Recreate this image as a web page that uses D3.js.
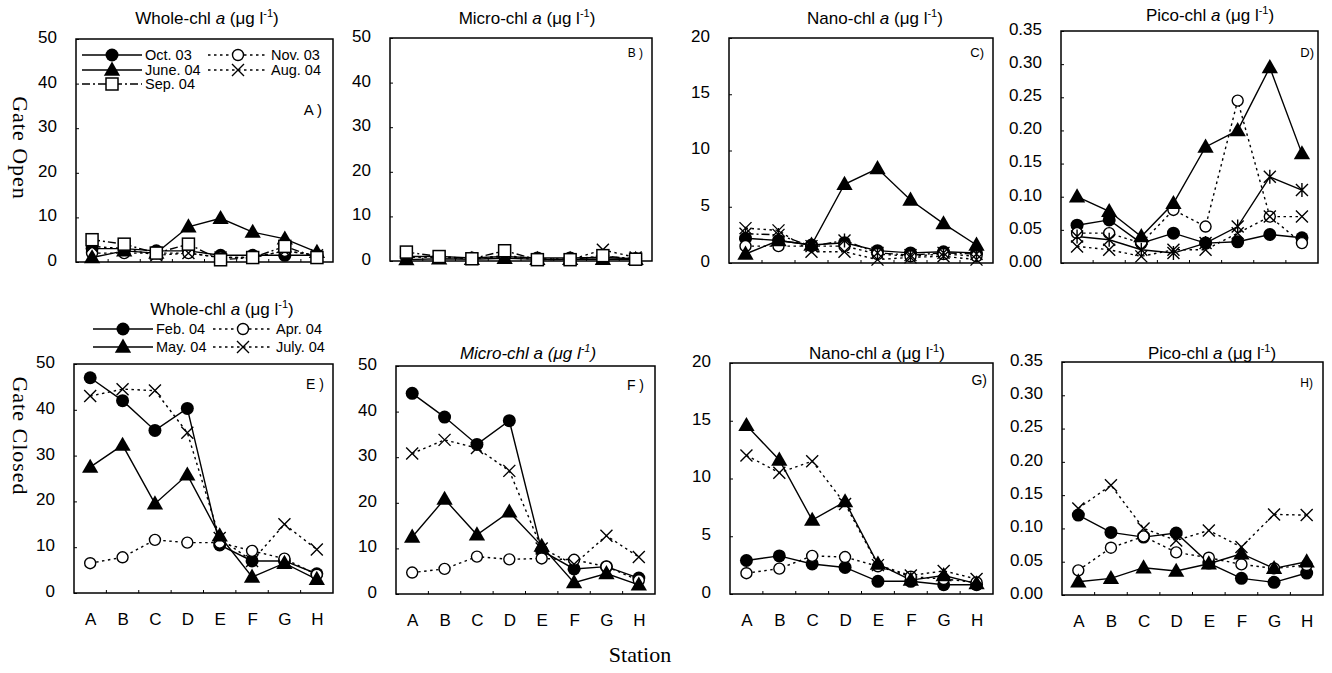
<!DOCTYPE html>
<html><head><meta charset="utf-8">
<script src="https://cdn.jsdelivr.net/npm/d3@7"></script>
<style>body{margin:0;background:#fff} text{fill:#000}</style>
</head><body>
<svg id="c" width="1332" height="673" style="font-family:'Liberation Sans',Arial,sans-serif"></svg>
<script>
// ---------- data ----------
const STATIONS = ["A","B","C","D","E","F","G","H"];
const OPEN_MONTHS = ["Oct. 03","Nov. 03","June. 04","Aug. 04","Sep. 04"];
const CLOSED_MONTHS = ["Feb. 04","Apr. 04","May. 04","July. 04"];
const TICKS_WHOLE = [0,10,20,30,40,50];
const TICKS_NANO = [0,5,10,15,20];
const TICKS_PICO = [0,0.05,0.10,0.15,0.20,0.25,0.30,0.35];

// Gate open (rows: Oct.03, Nov.03, June.04, Aug.04, Sep.04)
const WHOLE_OPEN = [
  [3.0,3.0,2.5,2.5,1.5,1.5,1.5,1.5],
  [2.0,2.0,2.0,2.0,1.0,1.0,2.5,1.5],
  [1.0,2.5,2.0,7.9,9.8,6.7,5.2,2.2],
  [3.5,3.0,1.5,2.0,1.0,1.0,2.5,1.5],
  [5.0,4.0,2.0,4.0,0.5,1.0,3.5,1.0]
];
const MICRO_OPEN = [
  [1.0,1.0,0.7,1.0,0.7,0.7,0.8,0.5],
  [0.8,1.0,0.5,1.2,0.5,0.4,1.0,0.5],
  [0.3,0.5,0.4,0.6,0.4,0.4,0.4,0.4],
  [1.0,0.8,0.5,1.0,0.3,0.3,2.5,0.8],
  [2.0,1.0,0.5,2.3,0.3,0.3,1.2,0.4]
];
const NANO_OPEN = [
  [2.2,2.0,1.6,1.8,1.1,0.9,1.0,0.9],
  [1.5,1.5,1.5,1.5,0.8,0.6,0.8,0.6],
  [0.8,2.0,1.6,7.0,8.4,5.6,3.5,1.6],
  [3.1,2.9,1.0,1.0,0.3,0.5,0.6,0.3],
  [2.6,2.5,1.5,2.0,0.9,0.7,0.9,0.8]
];
const PICO_OPEN = [
  [0.057,0.065,0.030,0.045,0.030,0.032,0.043,0.038],
  [0.045,0.045,0.030,0.080,0.055,0.245,0.070,0.030],
  [0.100,0.078,0.040,0.090,0.175,0.200,0.295,0.165],
  [0.025,0.020,0.010,0.020,0.020,0.045,0.070,0.070],
  [0.040,0.035,0.020,0.015,0.030,0.055,0.130,0.110]
];
// Gate closed (rows: Feb.04, Apr.04, May.04, July.04)
const WHOLE_CLOSED = [
  [47.0,42.0,35.5,40.3,10.5,7.0,7.0,4.2],
  [6.5,7.8,11.6,11.0,11.0,9.2,7.5,4.0],
  [27.5,32.3,19.5,25.8,12.5,3.5,6.5,3.0],
  [43.0,44.5,44.2,35.0,12.0,7.0,15.0,9.5]
];
const MICRO_CLOSED = [
  [44.0,38.8,32.8,38.0,9.5,5.5,6.0,3.5],
  [4.7,5.5,8.2,7.6,7.8,7.5,6.0,3.0],
  [12.5,20.8,13.0,18.0,10.5,2.5,4.5,2.0],
  [30.8,33.8,32.0,27.0,10.0,6.5,12.8,8.1]
];
const NANO_CLOSED = [
  [2.9,3.3,2.6,2.3,1.1,1.1,0.8,0.8],
  [1.8,2.2,3.3,3.2,2.4,1.5,1.3,1.0],
  [14.6,11.6,6.4,8.0,2.6,1.2,1.6,0.9],
  [12.0,10.5,11.5,7.8,2.5,1.6,2.0,1.3]
];
const PICO_CLOSED = [
  [0.120,0.094,0.087,0.093,0.048,0.025,0.019,0.033],
  [0.037,0.071,0.088,0.064,0.056,0.046,0.040,0.045],
  [0.020,0.025,0.041,0.036,0.047,0.062,0.040,0.050],
  [0.130,0.165,0.100,0.082,0.097,0.072,0.121,0.120]
];

// ---------- styles ----------
const DOT = "2.5,3.5", DASHDOT = "8,3,2,3";
const OPEN_STYLES = [
  {m:"fcircle", dash:null},
  {m:"ocircle", dash:DOT},
  {m:"ftri", dash:null},
  {m:"x", dash:DOT},
  {m:"osquare", dash:DASHDOT}
];
const CLOSED_STYLES = [
  {m:"fcircle", dash:null},
  {m:"ocircle", dash:DOT},
  {m:"ftri", dash:null},
  {m:"x", dash:DOT}
];

const svg = d3.select("#c");
const f0 = d3.format("d"), f2 = d3.format(".2f");
const SANS = "'Liberation Sans',Arial,sans-serif";
const SERIF = "'Liberation Serif','Times New Roman',serif";

function marker(g, type, cx, cy) {
  if (type === "fcircle") g.append("circle").attr("cx",cx).attr("cy",cy).attr("r",6.5).attr("fill","#000");
  else if (type === "ocircle") g.append("circle").attr("cx",cx).attr("cy",cy).attr("r",5.5).attr("fill","#fff").attr("stroke","#000").attr("stroke-width",1.4);
  else if (type === "ftri") g.append("path").attr("d", d3.symbol(d3.symbolTriangle, 115)()).attr("transform",`translate(${cx},${cy+1})`).attr("fill","#000");
  else if (type === "osquare") g.append("rect").attr("x",cx-6).attr("y",cy-6).attr("width",12).attr("height",12).attr("fill","#fff").attr("stroke","#000").attr("stroke-width",1.5);
  else if (type === "x" || type === "ast") {
    const s = 6;
    g.append("path").attr("d",`M${cx-s},${cy-s}L${cx+s},${cy+s}M${cx-s},${cy+s}L${cx+s},${cy-s}` + (type==="ast" ? `M${cx},${cy-s-1}L${cx},${cy+s+1}` : ""))
      .attr("stroke","#000").attr("stroke-width",1.4).attr("fill","none");
  }
}

function title(x, y, name, italic) {
  const t = svg.append("text").attr("x",x).attr("y",y).attr("text-anchor","middle")
    .style("font-family",SANS).style("font-size","17px")
    .style("font-style", italic ? "italic" : "normal");
  t.append("tspan").text(name + "-chl ");
  t.append("tspan").style("font-style","italic").text("a");
  t.append("tspan").text(" (\u03bcg l");
  t.append("tspan").style("font-size","11px").attr("dy",-7).text("-1");
  t.append("tspan").attr("dy",7).text(")");
}

const panels = [
  {data:WHOLE_OPEN, st:OPEN_STYLES, ticks:TICKS_WHOLE, fmt:f0, box:[76,39,333,262], name:"Whole", tx:207, ty:24, lab:"A )", lx:322, ly:115, lfs:15},
  {data:MICRO_OPEN, st:OPEN_STYLES, ticks:TICKS_WHOLE, fmt:f0, box:[390,38,652,261], name:"Micro", tx:527, ty:24, lab:"B )", lx:643, ly:57, lfs:12},
  {data:NANO_OPEN, st:OPEN_STYLES, ticks:TICKS_NANO, fmt:f0, box:[729,38,993,263], name:"Nano", tx:875, ty:24, lab:"C)", lx:984, ly:57, lfs:13, sep:"ast"},
  {data:PICO_OPEN, st:OPEN_STYLES, ticks:TICKS_PICO, fmt:f2, box:[1061,31,1318,263], name:"Pico", tx:1210, ty:21, lab:"D)", lx:1314, ly:57, lfs:13, sep:"ast", sepSolid:true},
  {data:WHOLE_CLOSED, st:CLOSED_STYLES, ticks:TICKS_WHOLE, fmt:f0, box:[74,364,333,593], name:"Whole", tx:222, ty:315, lab:"E )", lx:324, ly:389, lfs:14, xl:true},
  {data:MICRO_CLOSED, st:CLOSED_STYLES, ticks:TICKS_WHOLE, fmt:f0, box:[396,366,655,594], name:"Micro", tx:528, ty:359, lab:"F )", lx:644, ly:390, lfs:14, xl:true, it:true},
  {data:NANO_CLOSED, st:CLOSED_STYLES, ticks:TICKS_NANO, fmt:f0, box:[730,363,993,594], name:"Nano", tx:877, ty:359, lab:"G)", lx:987, ly:385, lfs:14, xl:true},
  {data:PICO_CLOSED, st:CLOSED_STYLES, ticks:TICKS_PICO, fmt:f2, box:[1062,362,1323,595], name:"Pico", tx:1212, ty:359, lab:"H)", lx:1313, ly:387, lfs:12, xl:true}
];

panels.forEach(p => {
  const [l,t,r,b] = p.box;
  const x = d3.scalePoint().domain(STATIONS).range([l,r]).padding(0.5);
  const xb = d3.scaleBand().domain(STATIONS).range([l,r]);
  const y = d3.scaleLinear().domain([0, p.ticks[p.ticks.length-1]]).range([b,t]);
  const g = svg.append("g");

  // y axis
  const ya = g.append("g").attr("transform",`translate(${l},0)`)
    .call(d3.axisLeft(y).tickValues(p.ticks).tickFormat(p.fmt).tickSize(-3).tickPadding(19));
  ya.select(".domain").remove();
  ya.attr("font-family",null).attr("font-size",null);
  ya.selectAll("text").style("font-size","17px").style("font-family",SANS).attr("dy","0.2em");
  ya.selectAll("line").attr("stroke","#000");

  // x axis (inward ticks at band boundaries)
  STATIONS.slice(1).forEach(s => {
    g.append("line").attr("x1",xb(s)).attr("x2",xb(s)).attr("y1",b).attr("y2",b-3).attr("stroke","#000").attr("stroke-width",1);
  });
  if (p.xl) {
    const xa = g.append("g").attr("transform",`translate(0,${b})`)
      .call(d3.axisBottom(x).tickSize(0).tickPadding(20));
    xa.select(".domain").remove();
    xa.attr("font-family",null).attr("font-size",null);
    xa.selectAll("text").style("font-size","17px").style("font-family",SANS);
  }

  // frame
  g.append("rect").attr("x",l).attr("y",t).attr("width",r-l).attr("height",b-t)
    .attr("fill","none").attr("stroke","#000").attr("stroke-width",1.5);

  // lines
  const line = d3.line().x((d,i)=>x(STATIONS[i])).y(d=>y(d));
  p.data.forEach((vals, si) => {
    let dash = p.st[si].dash;
    if (si === 4 && p.sepSolid) dash = null;
    g.append("path").attr("d", line(vals)).attr("fill","none").attr("stroke","#000")
      .attr("stroke-width",1.4).attr("stroke-dasharray", dash);
  });
  // markers
  p.data.forEach((vals, si) => {
    let m = p.st[si].m;
    if (si === 4 && p.sep) m = p.sep;
    vals.forEach((v,i) => marker(g, m, x(STATIONS[i]), y(v)));
  });

  title(p.tx, p.ty, p.name, p.it);
  svg.append("text").attr("x",p.lx).attr("y",p.ly).attr("text-anchor","end")
    .style("font-family",SANS).style("font-size",p.lfs+"px").text(p.lab);
});

// ---------- legends ----------
function legendItem(x1, x2, y, style, label) {
  svg.append("line").attr("x1",x1).attr("x2",x2).attr("y1",y).attr("y2",y).attr("stroke","#000")
    .attr("stroke-width",1.4).attr("stroke-dasharray",style.dash);
  marker(svg, style.m, (x1+x2)/2, y);
  svg.append("text").attr("x",x2+3).attr("y",y+5).style("font-family",SANS).style("font-size","14.5px").text(label);
}
// gate open legend (inside panel A)
legendItem(82,142,55,OPEN_STYLES[0],OPEN_MONTHS[0]);
legendItem(208,268,55,OPEN_STYLES[1],OPEN_MONTHS[1]);
legendItem(82,142,70,OPEN_STYLES[2],OPEN_MONTHS[2]);
legendItem(208,268,70,OPEN_STYLES[3],OPEN_MONTHS[3]);
legendItem(82,142,84,OPEN_STYLES[4],OPEN_MONTHS[4]);
// gate closed legend (above panel E)
legendItem(93,153,329,CLOSED_STYLES[0],CLOSED_MONTHS[0]);
legendItem(213,273,329,CLOSED_STYLES[1],CLOSED_MONTHS[1]);
legendItem(93,153,347,CLOSED_STYLES[2],CLOSED_MONTHS[2]);
legendItem(213,273,347,CLOSED_STYLES[3],CLOSED_MONTHS[3]);

// ---------- axis titles ----------
svg.append("text").attr("transform","translate(13,148) rotate(90)").attr("text-anchor","middle")
  .style("font-size","22px").style("letter-spacing","1px").style("font-family",SERIF).text("Gate Open");
svg.append("text").attr("transform","translate(13,436) rotate(90)").attr("text-anchor","middle")
  .style("font-size","22px").style("letter-spacing","1px").style("font-family",SERIF).text("Gate Closed");
svg.append("text").attr("x",640).attr("y",662).attr("text-anchor","middle")
  .style("font-size","22px").style("font-family",SERIF).text("Station");
</script>
</body></html>
